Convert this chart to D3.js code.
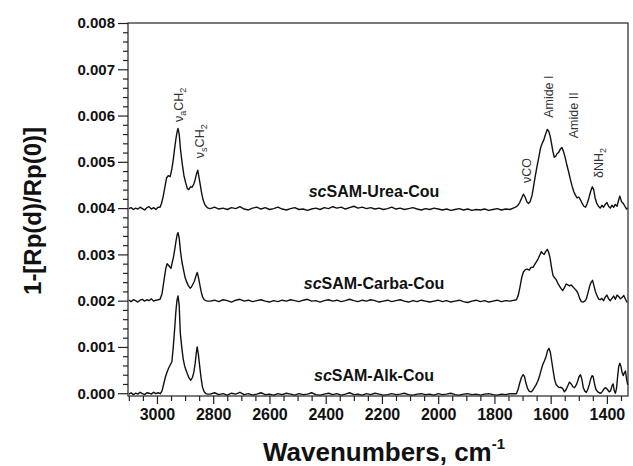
<!DOCTYPE html>
<html>
<head>
<meta charset="utf-8">
<script src="https://cdn.jsdelivr.net/npm/d3@7"></script>
<style>
  html, body { margin: 0; padding: 0; background: #fff; }
  svg { display: block; }
  text { font-family: Arial, "Liberation Sans", sans-serif; }
</style>
</head>
<body>
<svg id="chart" width="633" height="466"></svg>
<script>
// ---------------- DATA ----------------
const xTickValues = [3000, 2800, 2600, 2400, 2200, 2000, 1800, 1600, 1400];
const yTickValues = [0.000, 0.001, 0.002, 0.003, 0.004, 0.005, 0.006, 0.007, 0.008];
const seriesNames = ["scSAM-Urea-Cou", "scSAM-Carba-Cou", "scSAM-Alk-Cou"];

// sampling of the flat regions (wavenumbers)
const leftWn = [3100, 3092, 3084, 3076, 3068, 3060, 3052, 3044, 3036, 3028, 3020, 3012, 3004, 2996];
const midWn = [2810,2795,2780,2765,2750,2735,2720,2705,2690,2675,2660,2645,2630,2615,2600,2585,2570,2555,2540,2525,2510,2495,2480,2465,2450,2435,2420,2405,2390,2375,2360,2345,2330,2315,2300,2285,2270,2255,2240,2225,2210,2195,2180,2165,2150,2135,2120,2105,2090,2075,2060,2045,2030,2015,2000,1985,1970,1955,1940,1925,1910,1895,1880,1865,1850,1835,1820,1805,1790,1775,1760,1745];

// --- scSAM-Urea-Cou ---
const ureaLeft = [.00399,.00401,.00397,.00400,.00398,.00402,.00399,.00396,.00401,.00403,.00398,.00401,.00397,.00402];
const ureaCH = [[2989,.00402],[2984,.00410],[2978,.00425],[2972,.00445],[2966,.00465],[2960,.00470],[2953,.00468],[2947,.00485],[2942,.00505],[2937,.00530],[2932,.00552],[2928,.00566],[2925,.00572],[2921,.00560],[2916,.00525],[2910,.00495],[2904,.00470],[2898,.00455],[2892,.00442],[2887,.00440],[2881,.00446],[2875,.00445],[2869,.00452],[2864,.00462],[2859,.00475],[2855,.00482],[2851,.00468],[2846,.00450],[2841,.00432],[2836,.00418],[2830,.00408],[2824,.00403],[2818,.00400]];
const ureaMid = [.00399,.00402,.00398,.00400,.00397,.00401,.00399,.00403,.00398,.00396,.00400,.00402,.00398,.00401,.00397,.00399,.00402,.00398,.00396,.00399,.00401,.00397,.00398,.00395,.00398,.00400,.00397,.00401,.00399,.00403,.00400,.00402,.00398,.00401,.00404,.00400,.00402,.00399,.00401,.00398,.00400,.00397,.00399,.00402,.00398,.00400,.00397,.00399,.00401,.00398,.00396,.00399,.00397,.00400,.00398,.00396,.00398,.00395,.00397,.00399,.00396,.00398,.00395,.00397,.00396,.00398,.00395,.00397,.00399,.00396,.00398,.00397];
const ureaAmide = [[1733,.00400],[1725,.00402],[1718,.00405],[1710,.00412],[1703,.00422],[1697,.00430],[1691,.00424],[1685,.00414],[1679,.00410],[1673,.00414],[1666,.00428],[1660,.00450],[1654,.00472],[1648,.00492],[1642,.00510],[1636,.00530],[1630,.00540],[1624,.00548],[1618,.00560],[1612,.00570],[1607,.00566],[1602,.00556],[1597,.00540],[1592,.00522],[1587,.00510],[1582,.00512],[1577,.00518],[1572,.00520],[1566,.00527],[1560,.00531],[1554,.00522],[1548,.00508],[1542,.00492],[1536,.00478],[1530,.00462],[1524,.00448],[1518,.00436],[1512,.00428],[1506,.00422],[1500,.00424],[1494,.00418],[1488,.00410],[1482,.00404],[1476,.00402],[1470,.00410],[1464,.00422],[1458,.00436],[1452,.00446],[1447,.00440],[1442,.00422],[1436,.00410],[1430,.00404],[1424,.00400],[1418,.00406],[1412,.00402],[1406,.00408],[1400,.00412],[1394,.00404],[1388,.00400],[1382,.00406],[1376,.00402],[1370,.00408],[1364,.00404],[1358,.00418],[1354,.00426],[1348,.00414],[1342,.00410],[1336,.00404],[1330,.00398],[1326,.00400]];

// --- scSAM-Carba-Cou ---
const carbaLeft = [.00201,.00198,.00202,.00200,.00197,.00201,.00203,.00199,.00202,.00200,.00204,.00199,.00201,.00202];
const carbaCH = [[2989,.00203],[2982,.00215],[2975,.00244],[2969,.00268],[2964,.00280],[2957,.00275],[2950,.00270],[2946,.00282],[2942,.00292],[2937,.00310],[2932,.00330],[2928,.00343],[2925,.00347],[2921,.00335],[2916,.00305],[2911,.00283],[2905,.00265],[2900,.00250],[2894,.00240],[2888,.00232],[2882,.00227],[2877,.00230],[2872,.00236],[2867,.00242],[2862,.00252],[2857,.00261],[2853,.00252],[2848,.00236],[2843,.00220],[2838,.00208],[2832,.00202],[2826,.00200],[2820,.00199]];
const carbaMid = [.00199,.00201,.00198,.00202,.00200,.00197,.00201,.00203,.00199,.00201,.00198,.00200,.00202,.00199,.00197,.00200,.00198,.00201,.00199,.00202,.00200,.00198,.00201,.00203,.00199,.00200,.00197,.00200,.00202,.00199,.00201,.00198,.00200,.00203,.00200,.00198,.00201,.00199,.00202,.00200,.00197,.00199,.00201,.00198,.00200,.00202,.00199,.00197,.00200,.00198,.00201,.00199,.00197,.00199,.00201,.00198,.00200,.00197,.00199,.00201,.00198,.00196,.00199,.00201,.00198,.00200,.00197,.00199,.00201,.00198,.00200,.00199];
const carbaAmide = [[1722,.00202],[1715,.00212],[1709,.00230],[1703,.00250],[1697,.00262],[1690,.00267],[1683,.00268],[1676,.00266],[1670,.00272],[1663,.00272],[1657,.00278],[1651,.00284],[1645,.00290],[1639,.00298],[1633,.00306],[1628,.00302],[1623,.00300],[1618,.00306],[1612,.00311],[1607,.00304],[1602,.00292],[1597,.00272],[1592,.00255],[1587,.00250],[1581,.00246],[1575,.00238],[1569,.00232],[1563,.00226],[1557,.00222],[1551,.00228],[1545,.00236],[1539,.00234],[1533,.00232],[1527,.00234],[1521,.00230],[1515,.00226],[1509,.00222],[1503,.00216],[1497,.00205],[1491,.00198],[1485,.00197],[1479,.00199],[1473,.00204],[1467,.00218],[1461,.00232],[1456,.00240],[1451,.00244],[1446,.00232],[1441,.00220],[1436,.00212],[1430,.00204],[1424,.00202],[1418,.00205],[1412,.00200],[1406,.00208],[1400,.00212],[1394,.00204],[1388,.00200],[1382,.00205],[1376,.00210],[1370,.00203],[1364,.00212],[1358,.00209],[1352,.00204],[1346,.00207],[1340,.00211],[1334,.00203],[1328,.00196]];

// --- scSAM-Alk-Cou ---
const alkLeft = [-.00002,.00001,-.00003,.00000,-.00002,.00002,-.00001,-.00003,.00001,.00000,-.00002,.00002,-.00001,.00001];
const alkCH = [[2988,-.00001],[2982,.00005],[2976,.00020],[2970,.00035],[2964,.00046],[2958,.00055],[2952,.00062],[2947,.00068],[2942,.00100],[2937,.00140],[2933,.00175],[2929,.00200],[2925,.00210],[2921,.00190],[2917,.00130],[2912,.00100],[2907,.00075],[2902,.00060],[2897,.00050],[2892,.00042],[2886,.00033],[2880,.00028],[2874,.00034],[2869,.00045],[2864,.00065],[2860,.00088],[2857,.00100],[2853,.00085],[2848,.00058],[2843,.00032],[2838,.00013],[2832,.00003],[2826,-.00001],[2820,-.00002]];
const alkMid = [-.00002,.00001,-.00003,-.00001,-.00004,.00000,-.00002,.00002,-.00003,-.00001,-.00004,-.00002,.00001,-.00003,-.00002,-.00004,-.00001,-.00003,.00000,-.00002,-.00004,-.00001,-.00003,-.00002,.00001,-.00003,-.00004,-.00002,.00000,-.00003,-.00001,-.00004,-.00002,.00001,-.00003,-.00002,-.00004,-.00001,-.00003,.00000,-.00002,-.00004,-.00003,-.00001,-.00003,-.00002,.00000,-.00003,-.00004,-.00002,-.00001,-.00003,-.00002,-.00004,-.00001,-.00003,-.00002,.00000,-.00003,-.00004,-.00002,-.00001,-.00003,-.00002,-.00004,-.00002,-.00001,-.00003,-.00004,-.00002,-.00003,-.00001];
const alkAmide = [[1722,-.00001],[1716,.00008],[1710,.00022],[1704,.00034],[1698,.00040],[1693,.00036],[1688,.00022],[1682,.00010],[1676,.00004],[1670,.00003],[1664,.00006],[1658,.00012],[1652,.00018],[1646,.00026],[1640,.00036],[1634,.00050],[1628,.00062],[1622,.00070],[1616,.00080],[1611,.00092],[1606,.00097],[1601,.00088],[1596,.00068],[1591,.00048],[1586,.00030],[1581,.00019],[1575,.00015],[1569,.00012],[1563,.00013],[1557,.00010],[1551,.00003],[1545,.00008],[1539,.00016],[1533,.00024],[1527,.00020],[1521,.00014],[1515,.00012],[1509,.00018],[1504,.00026],[1499,.00036],[1494,.00040],[1489,.00030],[1484,.00012],[1478,.00004],[1473,.00002],[1468,.00008],[1463,.00018],[1458,.00030],[1453,.00038],[1449,.00036],[1444,.00020],[1439,.00008],[1434,.00004],[1428,.00001],[1422,.00000],[1416,.00004],[1410,.00010],[1404,.00012],[1398,.00008],[1392,.00003],[1387,.00005],[1382,.00016],[1378,.00020],[1374,.00006],[1370,.00000],[1366,.00010],[1362,.00035],[1358,.00058],[1354,.00065],[1350,.00058],[1346,.00045],[1342,.00038],[1338,.00044],[1334,.00048],[1330,.00030],[1326,.00018]];

// peak annotations (label start = lower end of the rotated text)
const annoLabels = ["νaCH2", "νsCH2", "νCO", "Amide I", "Amide II", "δNH2"];
const annoWn = [2925, 2850, 1686, 1609, 1521, 1433];
const annoVal = [0.00586, 0.00508, 0.00454, 0.00595, 0.00551, 0.00465];

// ---------------- CHART ----------------
const svg = d3.select("#chart");
const L = 128, R = 628, T = 23, B = 396;

const x = d3.scaleLinear().domain([3103, 1325]).range([L, R]);
const y = d3.scaleLinear().domain([-0.00006, 0.008]).range([B, T]);

function build(left, ch, mid, amide) {
  const pts = [];
  d3.zip(leftWn, left).forEach(d => pts.push(d));
  ch.forEach(d => pts.push(d));
  d3.zip(midWn, mid).forEach(d => pts.push(d));
  amide.forEach(d => pts.push(d));
  return pts.sort((a, b) => b[0] - a[0]);
}
const series = [
  build(ureaLeft, ureaCH, ureaMid, ureaAmide),
  build(carbaLeft, carbaCH, carbaMid, carbaAmide),
  build(alkLeft, alkCH, alkMid, alkAmide)
];

const line = d3.line().x(d => x(d[0])).y(d => y(d[1]));

svg.append("g").selectAll("path").data(series).join("path")
  .attr("d", line)
  .attr("fill", "none")
  .attr("stroke", "#111")
  .attr("stroke-width", 1.4)
  .attr("stroke-linejoin", "round");

// Frame
svg.append("rect").attr("x", L).attr("y", T).attr("width", R - L).attr("height", B - T)
  .attr("fill", "none").attr("stroke", "#222").attr("stroke-width", 1.2);

// X axis: minor ticks every 50, major every 200
const xMinor = d3.range(3100, 1324, -50).filter(v => !xTickValues.includes(v));
svg.append("g").attr("transform", `translate(0,${B})`)
  .call(d3.axisBottom(x).tickValues(xMinor).tickSize(5).tickFormat(""))
  .call(g => g.select(".domain").remove())
  .call(g => g.selectAll("line").attr("stroke", "#222").attr("stroke-width", 1.2));
svg.append("g").attr("transform", `translate(0,${B})`)
  .call(d3.axisBottom(x).tickValues(xTickValues).tickSize(8).tickPadding(5).tickFormat(d3.format("d")))
  .call(g => g.select(".domain").remove())
  .call(g => g.selectAll("line").attr("stroke", "#222").attr("stroke-width", 1.2))
  .call(g => g.selectAll("text").attr("font-size", 16).attr("font-weight", "bold").attr("fill", "#111")
      .attr("font-family", "Arial, 'Liberation Sans', sans-serif"));

// Y axis: minor ticks every 0.0002
const yMinor = d3.range(1, 40).map(i => i * 0.0002).filter(v => Math.abs(Math.round(v * 1000) - v * 1000) > 1e-6);
svg.append("g").attr("transform", `translate(${L},0)`)
  .call(d3.axisLeft(y).tickValues(yMinor).tickSize(5).tickFormat(""))
  .call(g => g.select(".domain").remove())
  .call(g => g.selectAll("line").attr("stroke", "#222").attr("stroke-width", 1.2));
svg.append("g").attr("transform", `translate(${L},0)`)
  .call(d3.axisLeft(y).tickValues(yTickValues).tickSize(10).tickPadding(3).tickFormat(d3.format(".3f")))
  .call(g => g.select(".domain").remove())
  .call(g => g.selectAll("line").attr("stroke", "#222").attr("stroke-width", 1.2))
  .call(g => g.selectAll("text").attr("font-size", 15).attr("font-weight", "bold").attr("fill", "#111")
      .attr("font-family", "Arial, 'Liberation Sans', sans-serif"));

// Axis titles
const xt = svg.append("text").attr("x", 384).attr("y", 461).attr("text-anchor", "middle")
  .attr("font-size", 26).attr("font-weight", "bold").attr("fill", "#111");
xt.append("tspan").text("Wavenumbers, cm");
xt.append("tspan").attr("font-size", 15).attr("dy", -12).text("-1");

svg.append("text").attr("transform", "translate(41,211) rotate(-90)").attr("text-anchor", "middle")
  .attr("font-size", 24).attr("font-weight", "bold").attr("fill", "#111").text("1-[Rp(d)/Rp(0)]");

// Series labels
const labelVals = [0.00424, 0.00225, 0.00026];
seriesNames.forEach((name, i) => {
  const t = svg.append("text").attr("x", 374).attr("y", y(labelVals[i]))
    .attr("text-anchor", "middle").attr("font-size", 16).attr("font-weight", "bold").attr("fill", "#111");
  t.append("tspan").attr("font-style", "italic").text(name.slice(0, 2));
  t.append("tspan").text(name.slice(2));
});

// Peak annotations (rotated, with subscripts)
function addAnno(i) {
  const g = svg.append("text")
    .attr("transform", `translate(${x(annoWn[i]) + 5},${y(annoVal[i])}) rotate(-90)`)
    .attr("font-size", 12.5).attr("fill", "#333");
  const lab = annoLabels[i];
  if (lab === "νaCH2" || lab === "νsCH2") {
    g.append("tspan").text("ν");
    g.append("tspan").attr("font-size", 9).attr("dy", 3).text(lab[1]);
    g.append("tspan").attr("dy", -3).text("CH");
    g.append("tspan").attr("font-size", 9).attr("dy", 3).text("2");
  } else if (lab === "δNH2") {
    g.append("tspan").text("δNH");
    g.append("tspan").attr("font-size", 9).attr("dy", 3).text("2");
  } else {
    g.text(lab);
  }
}
annoLabels.forEach((_, i) => addAnno(i));
</script>
</body>
</html>
